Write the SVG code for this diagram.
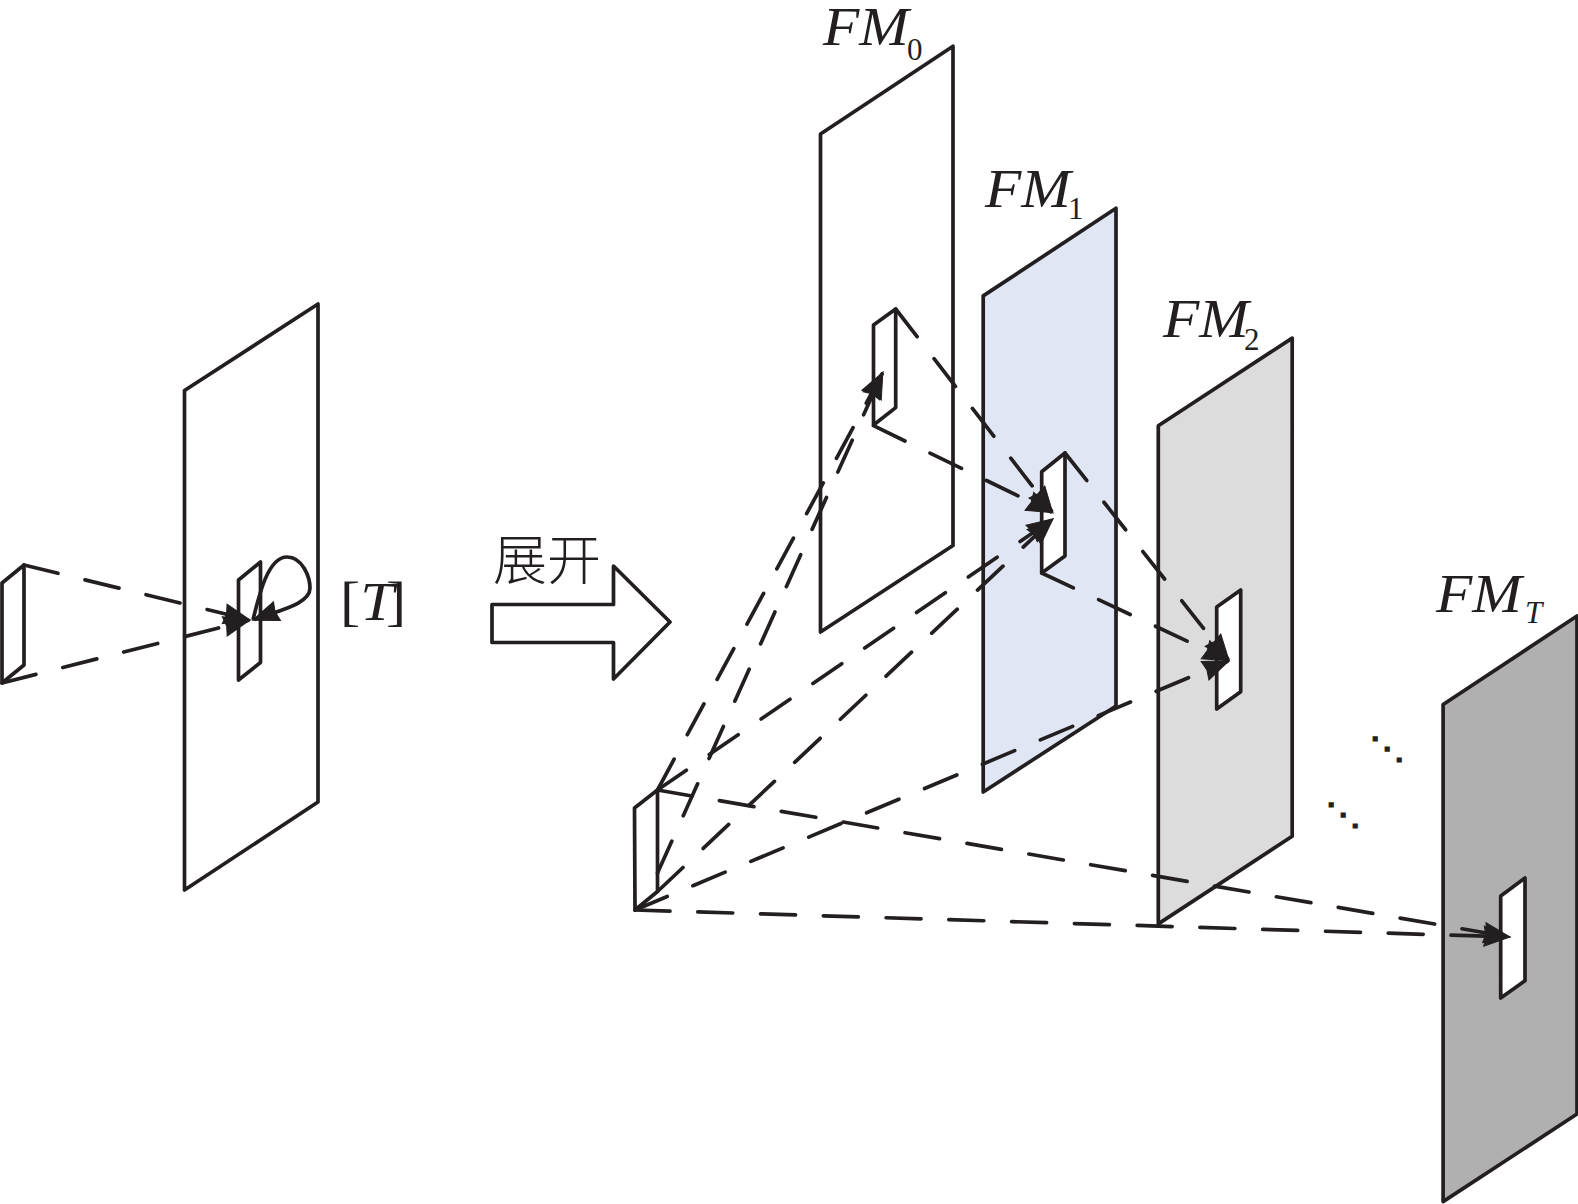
<svg xmlns="http://www.w3.org/2000/svg" width="1578" height="1204" viewBox="0 0 1578 1204">
<style>
.p{stroke:#231f20;stroke-width:3.7;stroke-linejoin:round;fill:#fff}
.d{fill:none;stroke:#231f20;stroke-width:3.7;stroke-linecap:round;stroke-dasharray:35 27.8;marker-end:url(#ah)}
.s{fill:none;stroke:#231f20;stroke-width:3.7;marker-end:url(#ah)}
.m{font-family:"Liberation Serif",serif;font-style:italic;font-size:54px;fill:#231f20}
.b{font-style:normal}
.u{font-family:"Liberation Serif",serif;font-size:31px;fill:#231f20}
.c{font-family:"Noto Sans CJK SC",sans-serif;font-size:54px;fill:#231f20;font-weight:300}
.o{font-family:"DejaVu Sans",sans-serif;font-size:36px;fill:#231f20;stroke:#231f20;stroke-width:1.5}
</style>
<defs>
<marker id="ah" markerUnits="userSpaceOnUse" markerWidth="34" markerHeight="30" refX="25" refY="15" orient="auto">
<path d="M1,5 L27,15 L1,25 L3,15 Z" fill="#231f20" stroke="#231f20" stroke-width="1"/>
</marker>
</defs>
<rect width="1578" height="1204" fill="#fff"/>
<g id="plane-left">
<polygon class="p" points="184.5,390.5 318,304 318,802 184.5,890"/>
<polygon class="p" points="238.5,580 260.5,562 260.5,662.5 238.5,680"/>
<text class="m" transform="translate(340,620) scale(1.12,1)"><tspan class="b">[</tspan><tspan>T</tspan><tspan class="b" dx="-7">]</tspan></text>
</g>
<g id="source-left"><polygon class="p" points="2,583 24,565 24,665 2,683"/></g>
<g id="fm0">
<polygon class="p" points="820.5,134 953,46.3 953,545.5 820.5,632"/>
<polygon class="p" points="873.5,325 895.7,309 895.7,407.6 873.5,425"/>
<text class="m" transform="translate(823,45) scale(1.1,1)">FM</text><text class="u" x="907" y="60">0</text>
</g>
<g id="fm1">
<polygon class="p" points="983.2,295.9 1116,208.3 1116,706 983.2,792" style="fill:#e0e6f3"/>
<polygon class="p" points="1041.7,471.7 1065,453 1065,556 1041.7,573"/>
<text class="m" transform="translate(985,206.7) scale(1.1,1)">FM</text><text class="u" x="1068" y="219">1</text>
</g>
<g id="fm2">
<polygon class="p" points="1158.3,425.7 1292.2,338.1 1292.2,836.3 1158.3,923.9" style="fill:#dcdcdc"/>
<polygon class="p" points="1216.7,607 1240.7,590 1240.7,691.7 1216.7,709"/>
<text class="m" transform="translate(1163,337) scale(1.1,1)">FM</text><text class="u" x="1244" y="350">2</text>
</g>
<g id="fmt">
<polygon class="p" points="1443.1,704.5 1577,616 1577,1114 1443.1,1201.6" style="fill:#b0b0b0"/>
<polygon class="p" points="1500.7,896 1525,878 1525,980.7 1500.7,998"/>
<text class="m" transform="translate(1436,612) scale(1.1,1)">FM</text><text class="u" style="font-style:italic" x="1525" y="623">T</text>
</g>
<g id="source-right"><polygon class="p" points="634.5,808 657.5,790 657.5,891.5 635,910"/></g>
<g id="unfold-arrow">
<polygon class="p" points="492,604.5 613.5,604.5 613.5,566 670,622 613.5,679 613.5,642.5 492,642.5"/>
<text class="c" x="493" y="580">展开</text>
</g>
<g id="dots">
<text class="o" transform="translate(1369,745) scale(1,.86)" x="0" y="16">⋱</text>
<text class="o" transform="translate(1325,811) scale(1,.86)" x="0" y="16">⋱</text>
</g>
<g id="connectors">
<path class="d" d="M24,565 L248,619.5"/>
<path class="d" d="M2,683 L248,620.5"/>
<path class="s" d="M253,620 C259,595 268,557 287,557 C303,557 310,578 310,588 C310,604 280,610 254.5,619.5"/>
<path class="d" d="M657.5,790 L882,374"/>
<path class="d" d="M657.5,873 L882,374"/>
<path class="d" d="M657.5,790 L1051.4,520"/>
<path class="d" d="M657.5,891.5 L1051.5,520.4"/>
<path class="d" d="M895.7,309 L1051.5,511"/>
<path class="d" d="M873.5,425.7 L1051,511.8"/>
<path class="d" d="M1065,453 L1227.8,659"/>
<path class="d" d="M1041.7,573 L1227.2,659.9"/>
<path class="d" d="M635,910 L1227.2,661.5"/>
<path class="d" d="M657.5,790 L1508,936.7"/>
<path class="d" d="M635,910 L1508,936.9"/>
</g>
</svg>
